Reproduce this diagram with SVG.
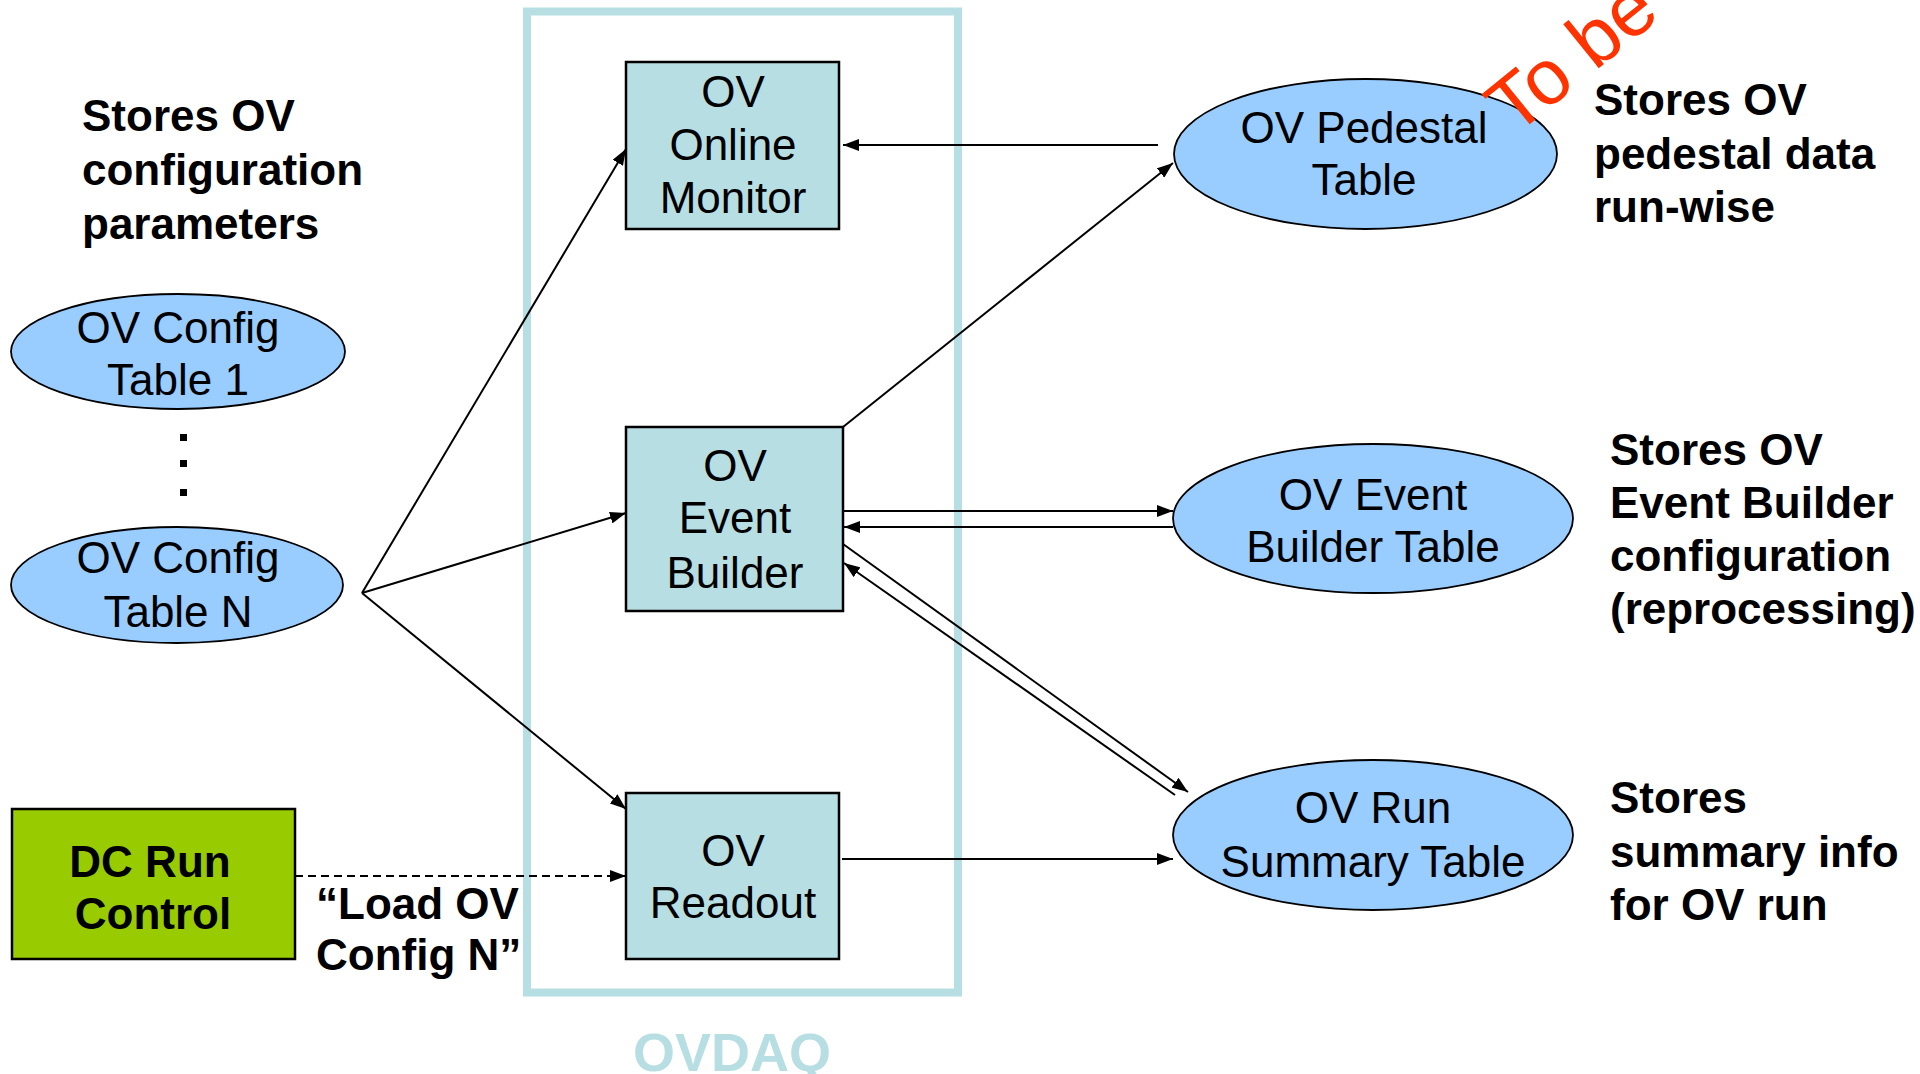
<svg xmlns="http://www.w3.org/2000/svg" width="1920" height="1074" viewBox="0 0 1920 1074">
  <style>
    .box { fill: #b7dee3; stroke: #000; stroke-width: 2.5; }
    .db { fill: #99ccff; stroke: #000; stroke-width: 1.8; }
    .run { fill: #99cc00; stroke: #000; stroke-width: 2.5; }
    .lbl { font-family: "Liberation Sans", Arial, sans-serif; font-size: 44px; fill: #000; text-anchor: middle; }
    .note { font-family: "Liberation Sans", Arial, sans-serif; font-size: 44px; font-weight: bold; fill: #000; }
    .edge { stroke: #000; stroke-width: 2; fill: none; }
    .dash { stroke-dasharray: 8 5; }
  </style>
  <defs>
    <marker id="arrow" markerUnits="userSpaceOnUse" markerWidth="16" markerHeight="12" refX="16" refY="6" orient="auto">
      <path d="M0,0 L16,6 L0,12 z" fill="#000"/>
    </marker>
  </defs>

  <rect width="1920" height="1074" fill="#fff"/>

  <!-- OVDAQ frame -->
  <g id="ovdaq">
    <rect x="527" y="11.5" width="431" height="981" fill="none" stroke="#b7dee3" stroke-width="8"/>
    <text x="732" y="1071" font-family="'Liberation Sans', Arial, sans-serif" font-size="54" font-weight="bold" fill="#b7dee3" text-anchor="middle">OVDAQ</text>
  </g>

  <!-- left column -->
  <g id="note-config">
    <text class="note" x="82" y="131">Stores OV</text>
    <text class="note" x="82" y="185">configuration</text>
    <text class="note" x="82" y="239">parameters</text>
  </g>

  <g id="config-table-1">
    <ellipse class="db" cx="178" cy="351.5" rx="167" ry="57.5"/>
    <text class="lbl" x="178" y="343">OV Config</text>
    <text class="lbl" x="178" y="395">Table 1</text>
  </g>

  <g id="ellipsis-dots" fill="#000">
    <rect x="180" y="434" width="7" height="7"/>
    <rect x="180" y="460" width="7" height="7"/>
    <rect x="180" y="489" width="7" height="7"/>
  </g>

  <g id="config-table-n">
    <ellipse class="db" cx="177" cy="585" rx="166" ry="58"/>
    <text class="lbl" x="178" y="573">OV Config</text>
    <text class="lbl" x="178" y="627">Table N</text>
  </g>

  <g id="dc-run-control">
    <rect class="run" x="12" y="809" width="283" height="150"/>
    <text class="note" x="150" y="877" text-anchor="middle">DC Run</text>
    <text class="note" x="153" y="929" text-anchor="middle">Control</text>
  </g>

  <g id="load-label">
    <text class="note" x="316" y="919">“Load OV</text>
    <text class="note" x="316" y="970">Config N”</text>
  </g>

  <!-- OVDAQ components -->
  <g id="online-monitor">
    <rect class="box" x="626" y="62" width="213" height="167"/>
    <text class="lbl" x="733" y="107">OV</text>
    <text class="lbl" x="733" y="160">Online</text>
    <text class="lbl" x="733" y="213">Monitor</text>
  </g>

  <g id="event-builder">
    <rect class="box" x="626" y="427" width="217" height="184"/>
    <text class="lbl" x="735" y="481">OV</text>
    <text class="lbl" x="735" y="533">Event</text>
    <text class="lbl" x="735" y="588">Builder</text>
  </g>

  <g id="readout">
    <rect class="box" x="626" y="793" width="213" height="166"/>
    <text class="lbl" x="733" y="866">OV</text>
    <text class="lbl" x="733" y="918">Readout</text>
  </g>

  <!-- database tables -->
  <g id="pedestal-table">
    <ellipse class="db" cx="1365.5" cy="154" rx="191.5" ry="75"/>
    <text class="lbl" x="1364" y="143">OV Pedestal</text>
    <text class="lbl" x="1364" y="195">Table</text>
  </g>

  <g id="eb-table">
    <ellipse class="db" cx="1373" cy="518.5" rx="200" ry="74.5"/>
    <text class="lbl" x="1373" y="510">OV Event</text>
    <text class="lbl" x="1373" y="562">Builder Table</text>
  </g>

  <g id="run-summary-table">
    <ellipse class="db" cx="1373" cy="835" rx="200" ry="75"/>
    <text class="lbl" x="1373" y="823">OV Run</text>
    <text class="lbl" x="1373" y="877">Summary Table</text>
  </g>

  <!-- right column notes -->
  <g id="note-pedestal">
    <text class="note" x="1594" y="115">Stores OV</text>
    <text class="note" x="1594" y="169">pedestal data</text>
    <text class="note" x="1594" y="222">run-wise</text>
  </g>

  <g id="note-eb">
    <text class="note" x="1610" y="465">Stores OV</text>
    <text class="note" x="1610" y="518">Event Builder</text>
    <text class="note" x="1610" y="571">configuration</text>
    <text class="note" x="1610" y="624">(reprocessing)</text>
  </g>

  <g id="note-summary">
    <text class="note" x="1610" y="813">Stores</text>
    <text class="note" x="1610" y="867">summary info</text>
    <text class="note" x="1610" y="920">for OV run</text>
  </g>

  <!-- connectors -->
  <g id="connectors">
    <line class="edge" x1="362" y1="593" x2="626" y2="149" marker-end="url(#arrow)"/>
    <line class="edge" x1="362" y1="593" x2="626" y2="513" marker-end="url(#arrow)"/>
    <line class="edge" x1="362" y1="593" x2="626" y2="809" marker-end="url(#arrow)"/>
    <line class="edge" x1="1158" y1="145" x2="843" y2="145" marker-end="url(#arrow)"/>
    <line class="edge" x1="843" y1="427" x2="1173" y2="163" marker-end="url(#arrow)"/>
    <line class="edge" x1="843" y1="511" x2="1173" y2="511" marker-end="url(#arrow)"/>
    <line class="edge" x1="1173" y1="527" x2="844" y2="527" marker-end="url(#arrow)"/>
    <line class="edge" x1="843" y1="544" x2="1188" y2="792" marker-end="url(#arrow)"/>
    <line class="edge" x1="1175" y1="795" x2="844" y2="563" marker-end="url(#arrow)"/>
    <line class="edge" x1="842" y1="859" x2="1173" y2="859" marker-end="url(#arrow)"/>
    <line class="edge dash" x1="295" y1="876" x2="626" y2="876" marker-end="url(#arrow)"/>
  </g>

  <!-- red stamp, runs off the top edge -->
  <text x="0" y="0" transform="translate(1514,137) rotate(-39)" font-family="'Liberation Sans', Arial, sans-serif" font-size="78" fill="#ff3300">To be</text>
</svg>
